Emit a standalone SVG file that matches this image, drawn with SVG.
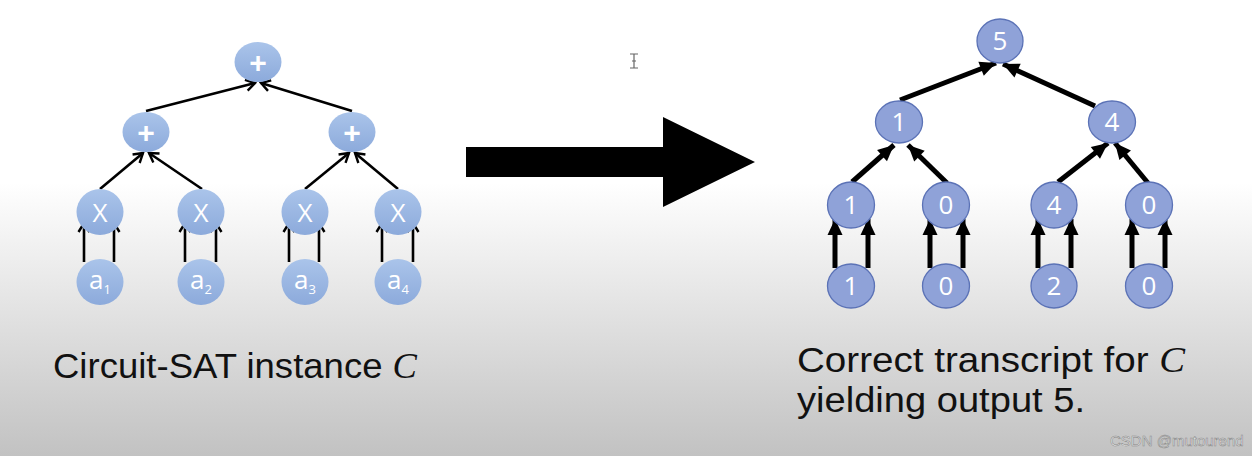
<svg xmlns="http://www.w3.org/2000/svg" width="1252" height="456" viewBox="0 0 1252 456">
<defs>
<linearGradient id="bg" x1="0" y1="0" x2="0" y2="1">
<stop offset="0" stop-color="#ffffff"/>
<stop offset="0.40" stop-color="#ffffff"/>
<stop offset="1" stop-color="#c2c2c2"/>
</linearGradient>
<linearGradient id="lnode" x1="0" y1="0" x2="0" y2="1">
<stop offset="0" stop-color="#aac4ea"/>
<stop offset="1" stop-color="#8caadb"/>
</linearGradient>
<marker id="open" markerUnits="userSpaceOnUse" markerWidth="14" markerHeight="14" viewBox="0 0 14 14" refX="12" refY="7" orient="auto">
<path d="M3,1.5 L12,7 L3,12.5" fill="none" stroke="#000" stroke-width="2.4"/>
</marker>
<marker id="solid" markerUnits="userSpaceOnUse" markerWidth="20" markerHeight="20" viewBox="0 0 20 20" refX="18" refY="10" orient="auto">
<path d="M2,2.5 L18,10 L2,17.5 Z" fill="#000"/>
</marker>
</defs>
<style>
.ln{fill:url(#lnode);}
.rn{fill:#8fa2d8;stroke:#5b72b6;stroke-width:1.3;}
.lt{font-family:"Open Sans","Liberation Sans",sans-serif;font-size:26px;fill:#fff;text-anchor:middle;}
.pl{font-family:"Liberation Sans",Arial,sans-serif;font-size:30px;font-weight:bold;fill:#fff;text-anchor:middle;}
.rt{font-family:"Open Sans","Liberation Sans",sans-serif;font-size:26px;fill:#fff;text-anchor:middle;}
.le{stroke:#000;stroke-width:2.6;fill:none;marker-end:url(#open);}
.re{stroke:#000;stroke-width:5;fill:none;marker-end:url(#solid);}
.cap{font-family:"Liberation Sans",Arial,sans-serif;font-size:35px;fill:#111;}
.ci{font-family:"Liberation Serif",serif;font-style:italic;}
</style>
<rect x="0" y="0" width="1252" height="456" fill="url(#bg)"/>

<g id="connectors">
<line class="le" x1="146" y1="111" x2="255" y2="83"/>
<line class="le" x1="352" y1="111" x2="261" y2="83"/>
<line class="le" x1="100" y1="189" x2="143" y2="153"/>
<line class="le" x1="202" y1="189" x2="149" y2="153"/>
<line class="le" x1="305" y1="189" x2="349" y2="153"/>
<line class="le" x1="398" y1="189" x2="355" y2="153"/>
<line class="le" x1="84" y1="262" x2="84" y2="223"/>
<line class="le" x1="114" y1="262" x2="114" y2="223"/>
<line class="le" x1="185" y1="262" x2="185" y2="223"/>
<line class="le" x1="216" y1="262" x2="216" y2="223"/>
<line class="le" x1="289" y1="262" x2="289" y2="223"/>
<line class="le" x1="319" y1="262" x2="319" y2="223"/>
<line class="le" x1="382" y1="262" x2="382" y2="223"/>
<line class="le" x1="413" y1="262" x2="413" y2="223"/>

<line class="re" x1="900" y1="100" x2="996" y2="63"/>
<line class="re" x1="1095" y1="106" x2="1003" y2="64"/>
<line class="re" x1="852" y1="182" x2="894" y2="145"/>
<line class="re" x1="947" y1="183" x2="908" y2="145"/>
<line class="re" x1="1058" y1="182" x2="1108" y2="143"/>
<line class="re" x1="1148" y1="183" x2="1115" y2="143"/>
<line class="re" x1="835" y1="268" x2="835" y2="219"/>
<line class="re" x1="868" y1="268" x2="868" y2="219"/>
<line class="re" x1="930" y1="268" x2="930" y2="219"/>
<line class="re" x1="963" y1="268" x2="963" y2="219"/>
<line class="re" x1="1038" y1="268" x2="1038" y2="219"/>
<line class="re" x1="1071" y1="268" x2="1071" y2="219"/>
<line class="re" x1="1132" y1="268" x2="1132" y2="219"/>
<line class="re" x1="1165" y1="268" x2="1165" y2="219"/>
</g>

<g id="L-root"><ellipse class="ln" cx="258" cy="62" rx="23.5" ry="20"/><text class="pl" x="258" y="73">+</text></g>
<g id="L-p1"><ellipse class="ln" cx="146" cy="132" rx="23.5" ry="20"/><text class="pl" x="146" y="143">+</text></g>
<g id="L-p2"><ellipse class="ln" cx="352" cy="132" rx="23.5" ry="20"/><text class="pl" x="352" y="143">+</text></g>
<g id="L-x1"><ellipse class="ln" cx="100" cy="212" rx="23.5" ry="23"/><text class="lt" x="100" y="222">X</text></g>
<g id="L-x2"><ellipse class="ln" cx="201" cy="212" rx="23.5" ry="23"/><text class="lt" x="201" y="222">X</text></g>
<g id="L-x3"><ellipse class="ln" cx="305" cy="212" rx="23.5" ry="23"/><text class="lt" x="305" y="222">X</text></g>
<g id="L-x4"><ellipse class="ln" cx="398" cy="212" rx="23.5" ry="23"/><text class="lt" x="398" y="222">X</text></g>
<g id="L-a1"><ellipse class="ln" cx="100" cy="282" rx="23.5" ry="23"/><text class="lt" x="100" y="289" font-size="21">a<tspan font-size="13" dy="5">1</tspan></text></g>
<g id="L-a2"><ellipse class="ln" cx="201" cy="282" rx="23.5" ry="23"/><text class="lt" x="201" y="289" font-size="21">a<tspan font-size="13" dy="5">2</tspan></text></g>
<g id="L-a3"><ellipse class="ln" cx="305" cy="282" rx="23.5" ry="23"/><text class="lt" x="305" y="289" font-size="21">a<tspan font-size="13" dy="5">3</tspan></text></g>
<g id="L-a4"><ellipse class="ln" cx="398" cy="282" rx="23.5" ry="23"/><text class="lt" x="398" y="289" font-size="21">a<tspan font-size="13" dy="5">4</tspan></text></g>

<g id="big-arrow"><path d="M466,147 L663,147 L663,117 L755,162 L663,207 L663,177 L466,177 Z" fill="#000"/></g>

<g id="cursor"><path d="M630,54 L638,54 M634,54 L634,68 M630,68 L638,68 M632,61 L636,61" stroke="#666" stroke-width="1.2" fill="none"/></g>

<g id="R-root"><ellipse class="rn" cx="1000" cy="41" rx="23" ry="22"/><text class="rt" x="1000" y="50">5</text></g>
<g id="R-p1"><ellipse class="rn" cx="899" cy="122" rx="23.5" ry="21"/><text class="rt" x="899" y="131">1</text></g>
<g id="R-p2"><ellipse class="rn" cx="1112" cy="122" rx="23.5" ry="21"/><text class="rt" x="1112" y="131">4</text></g>
<g id="R-m1"><ellipse class="rn" cx="851" cy="205" rx="23.5" ry="23"/><text class="rt" x="851" y="214">1</text></g>
<g id="R-m2"><ellipse class="rn" cx="946" cy="205" rx="23.5" ry="23"/><text class="rt" x="946" y="214">0</text></g>
<g id="R-m3"><ellipse class="rn" cx="1054" cy="205" rx="23" ry="23"/><text class="rt" x="1054" y="214">4</text></g>
<g id="R-m4"><ellipse class="rn" cx="1149" cy="205" rx="23.5" ry="23"/><text class="rt" x="1149" y="214">0</text></g>
<g id="R-l1"><ellipse class="rn" cx="851" cy="286" rx="23.5" ry="22"/><text class="rt" x="851" y="295">1</text></g>
<g id="R-l2"><ellipse class="rn" cx="946" cy="286" rx="23.5" ry="22"/><text class="rt" x="946" y="295">0</text></g>
<g id="R-l3"><ellipse class="rn" cx="1054" cy="286" rx="23" ry="22"/><text class="rt" x="1054" y="295">2</text></g>
<g id="R-l4"><ellipse class="rn" cx="1149" cy="286" rx="23.5" ry="22"/><text class="rt" x="1149" y="295">0</text></g>

<g id="captions">
<text class="cap" x="53" y="378" textLength="364" lengthAdjust="spacingAndGlyphs">Circuit-SAT instance <tspan class="ci">C</tspan></text>
<text class="cap" x="797" y="372" textLength="388" lengthAdjust="spacingAndGlyphs">Correct transcript for <tspan class="ci">C</tspan></text>
<text class="cap" x="797" y="412" textLength="288" lengthAdjust="spacingAndGlyphs">yielding output 5.</text>
<text x="1110" y="446" font-family="Liberation Sans, Arial, sans-serif" font-size="15" fill="#f4f4f4" stroke="#8a8a8a" stroke-width="0.6">CSDN @mutourend</text>
</g>
</svg>
